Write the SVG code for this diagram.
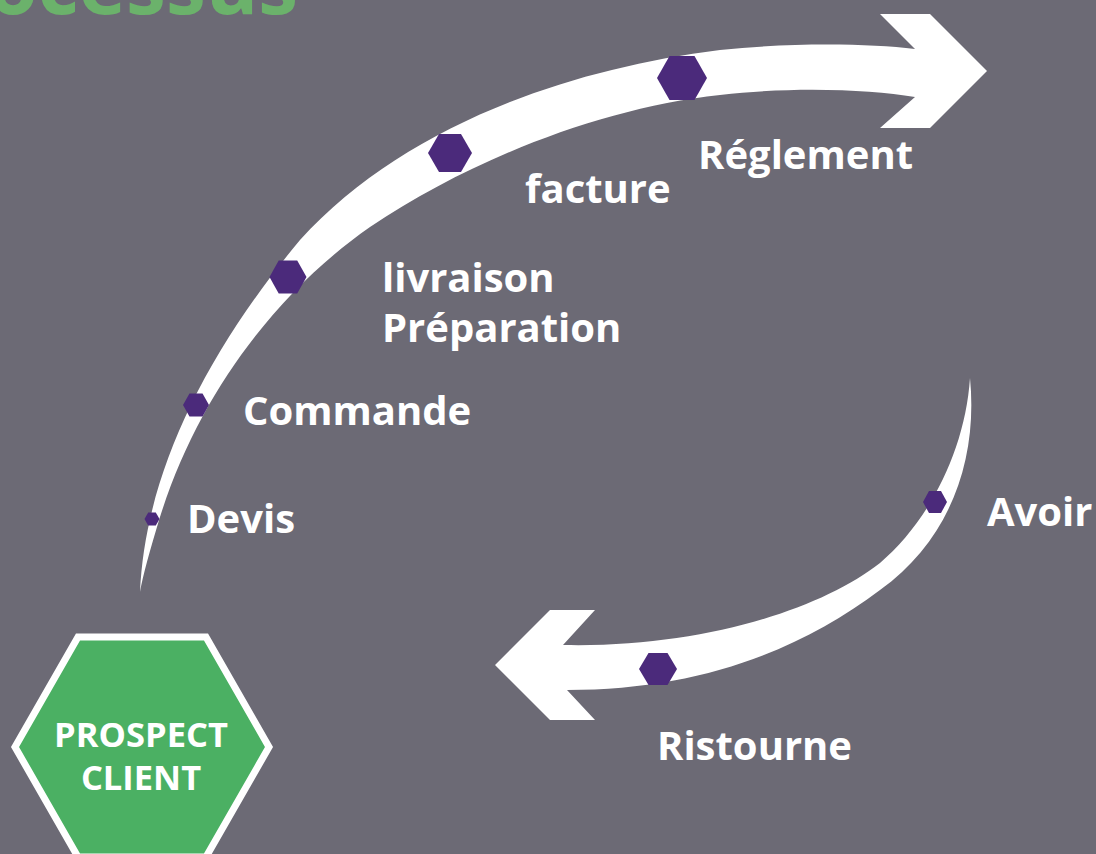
<svg xmlns="http://www.w3.org/2000/svg" width="1096" height="854" viewBox="0 0 1096 854">
<style>
.lbl{font-family:"Open Sans","Liberation Sans",sans-serif;font-weight:700;font-size:40px;fill:#ffffff}
.hx{fill:#4b2a7b}
.band{fill:#ffffff}
.pc{font-family:"Open Sans","Liberation Sans",sans-serif;font-weight:700;font-size:34.5px;fill:#ffffff}
</style>
<rect width="1096" height="854" fill="#6c6a75"/>
<text x="298" y="14" text-anchor="end" font-family="Open Sans, Liberation Sans, sans-serif" font-weight="700" font-size="80" fill="#6bb26b">Processus</text>
<g id="connectors">
<path id="arrow-top" class="band" d="M140,592 C145,480 200,360 300,240 C400,130 560,70 720,50 C800,42 870,44 915,49 L880,14 L930,14 L987,71 L930,128 L880,128 L915,97 C870,90 800,86 720,95 C600,108 470,160 370,227 C280,290 200,390 160,517 C150,550 143,575 140,592 Z"/>
<path id="arrow-bottom" class="band" d="M970,378 C978,460 950,540 880,590 C800,650 700,690 567,690 L595,720 L550,720 L495,665 L550,610 L595,610 L563,645 C700,648 820,610 880,563 C930,520 965,450 970,378 Z"/>
</g>
<g id="devis"><polygon class="hx" points="144.5,519 148.2,512.5 155.8,512.5 159.5,519 155.8,525.5 148.2,525.5"/><text class="lbl" x="187" y="533">Devis</text></g>
<g id="commande"><polygon class="hx" points="183,405 189.5,393.5 202.5,393.5 209,405 202.5,416.5 189.5,416.5"/><text class="lbl" x="243" y="425">Commande</text></g>
<g id="livraison"><polygon class="hx" points="269.5,277 278.7,260.5 297.2,260.5 306.5,277 297.2,293.5 278.7,293.5"/><text class="lbl" x="382" y="292">livraison</text><text class="lbl" x="382" y="342">Préparation</text></g>
<g id="facture"><polygon class="hx" points="428,153 439,134 461,134 472,153 461,172 439,172"/><text class="lbl" x="525" y="203">facture</text></g>
<g id="reglement"><polygon class="hx" points="657,78 669.5,56 694.5,56 707,78 694.5,100 669.5,100"/><text class="lbl" x="698" y="169">Réglement</text></g>
<g id="avoir"><polygon class="hx" points="923,502 929,491 941,491 947,502 941,513 929,513"/><text class="lbl" x="987" y="526">Avoir</text></g>
<g id="ristourne"><polygon class="hx" points="639,669 648.5,653 667.5,653 677,669 667.5,685 648.5,685"/><text class="lbl" x="657" y="760">Ristourne</text></g>
<g id="prospect-client">
<polygon points="15,747 78,637 206,637 269,747 206,857 78,857" fill="#4bb063" stroke="#ffffff" stroke-width="7" stroke-linejoin="miter"/>
<text class="pc" x="141" y="747" text-anchor="middle">PROSPECT</text>
<text class="pc" x="141" y="790" text-anchor="middle">CLIENT</text>
</g>
</svg>
